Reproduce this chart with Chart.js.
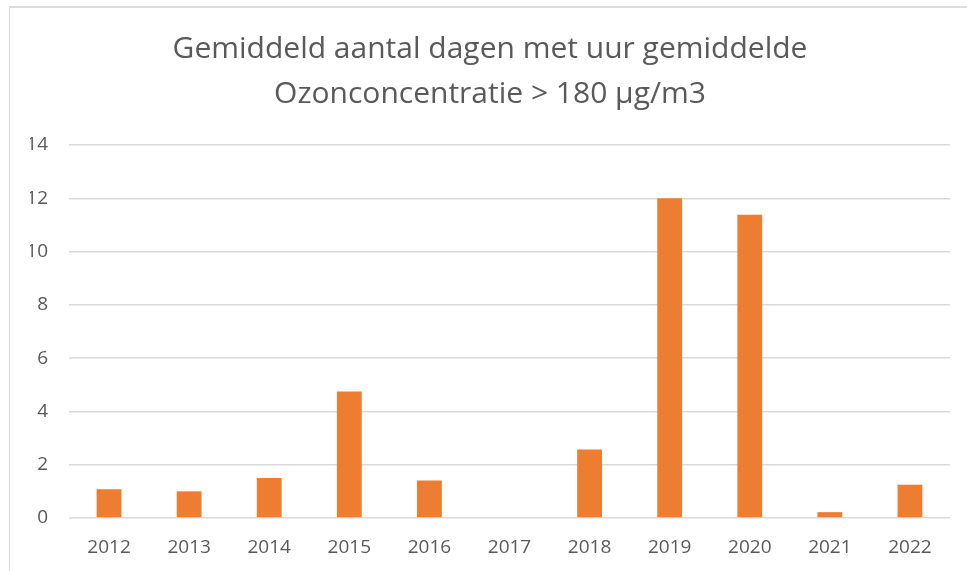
<!DOCTYPE html>
<html>
<head>
<meta charset="utf-8">
<script src="https://cdn.jsdelivr.net/npm/chart.js@4.4.1/dist/chart.umd.min.js"></script>
<style>
  html, body { margin: 0; padding: 0; background: #fff; }
  #wrap { position: relative; width: 967px; height: 571px; overflow: hidden; }
  #frame { position: absolute; left: 9px; top: 6px; right: 0; bottom: 0; border-left: 1px solid #d9d9d9; border-top: 2px solid #dcdcdc; pointer-events: none; }
  canvas { position: absolute; left: 0; top: 0; }
</style>
</head>
<body>
<div id="wrap">
  <canvas id="c" width="967" height="571"></canvas>
  <div id="frame"></div>
</div>
<script>
const titleLines = ["Gemiddeld aantal dagen met uur gemiddelde", "Ozonconcentratie > 180 µg/m3"];
const categories = ["2012", "2013", "2014", "2015", "2016", "2017", "2018", "2019", "2020", "2021", "2022"];
const values = [1.08, 1.0, 1.5, 4.75, 1.41, 0, 2.57, 12.0, 11.38, 0.22, 1.25];
const yTicks = [0, 2, 4, 6, 8, 10, 12, 14];

const textColor = "#595959";
const gridColor = "#d9d9d9";
const barColor = "#ED7D31";
const fontFamily = "'Open Sans'";

new Chart(document.getElementById("c"), {
  type: "bar",
  data: {
    labels: categories,
    datasets: [{
      data: values,
      backgroundColor: barColor,
      borderWidth: 0,
      barPercentage: 0.31,
      categoryPercentage: 1.0
    }]
  },
  options: {
    responsive: false,
    devicePixelRatio: 1,
    animation: false,
    layout: { padding: { left: 30, right: 17, top: 0, bottom: 0 } },
    plugins: {
      legend: { display: false },
      tooltip: { enabled: false },
      title: {
        display: true,
        text: titleLines,
        color: textColor,
        font: { family: fontFamily, size: 30, weight: "normal", lineHeight: 1.5 },
        padding: { top: 27, bottom: 28 }
      }
    },
    scales: {
      x: {
        grid: { display: false, drawTicks: false },
        border: { display: false },
        ticks: { color: textColor, font: { family: fontFamily, size: 19 }, padding: 18, maxRotation: 0 },
        afterFit: s => { s.height = 53; }
      },
      y: {
        min: 0, max: 14,
        afterBuildTicks: s => { s.ticks = yTicks.map(v => ({ value: v })); },
        grid: { color: gridColor, lineWidth: 1.5, drawTicks: false },
        border: { display: false },
        ticks: { color: textColor, font: { family: fontFamily, size: 19 }, padding: 21 },
        afterFit: s => { s.width = 39; }
      }
    }
  }
});
</script>
</body>
</html>
